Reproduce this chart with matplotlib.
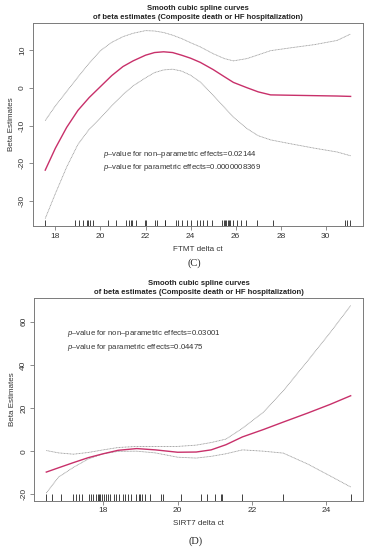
import numpy as np
import matplotlib
matplotlib.use("Agg")
from matplotlib import pyplot as plt

plt.rcParams['font.family'] = ['Liberation Sans', 'DejaVu Sans']
plt.rcParams['mathtext.fontset'] = 'custom'
plt.rcParams['mathtext.it'] = 'Liberation Sans:italic'
plt.rcParams['mathtext.rm'] = 'Liberation Sans'

# ---- panel C: FTMT delta ct ----
ftmt_x = [17.55, 18.0, 18.5, 19.0, 19.5, 20.0, 20.5, 21.0, 21.45, 22.0, 22.4, 22.8,
          23.2, 23.6, 24.0, 24.43, 25.0, 25.5, 25.9, 26.5, 27.0, 27.55, 28.5, 29.5, 30.5, 31.1]
ftmt_fit = [-21.8, -16.0, -10.5, -6.0, -2.6, 0.3, 3.2, 5.6, 7.1, 8.6, 9.3, 9.5,
            9.3, 8.6, 7.8, 6.7, 4.8, 2.9, 1.4, 0.0, -1.1, -1.9, -2.0, -2.1, -2.2, -2.3]
ftmt_hi = [-8.7, -4.8, -1.0, 2.8, 6.5, 9.8, 12.0, 13.5, 14.4, 15.1, 15.0, 14.6,
           13.9, 13.0, 11.9, 10.8, 9.0, 7.7, 7.1, 7.7, 8.7, 9.8, 10.6, 11.4, 12.5, 14.2]
ftmt_lo = [-34.6, -28.0, -21.0, -15.0, -11.0, -8.0, -4.8, -1.8, 0.5, 2.6, 4.0, 4.7,
           4.9, 4.4, 3.3, 1.5, -2.0, -5.2, -7.8, -10.8, -12.7, -13.8, -14.9, -16.0, -17.0, -18.0]
ftmt_rug = [17.55, 18.89, 19.04, 19.22, 19.40, 19.46, 19.52, 19.67, 20.35, 20.68,
            21.13, 21.27, 21.36, 21.42, 21.57, 21.96, 22.02, 22.43, 22.52, 22.85,
            22.88, 23.33, 23.45, 23.63, 23.83, 24.01, 24.28, 24.43, 24.55, 24.73,
            24.96, 25.38, 25.47, 25.53, 25.59, 25.65, 25.71, 25.77, 25.86, 26.04,
            26.25, 26.48, 26.96, 27.64, 30.83, 30.92, 31.09]
ftmt_p = ["0.02144", "0.0000008369"]

# ---- panel D: SIRT7 delta ct ----
sirt_x = [16.47, 16.8, 17.2, 17.6, 18.0, 18.4, 18.9, 19.4, 20.0, 20.5, 20.9,
          21.3, 21.74, 22.3, 22.84, 23.5, 24.1, 24.65]
sirt_fit = [-9.7, -7.7, -5.3, -3.0, -1.2, 0.4, 1.2, 0.6, -0.5, -0.4, 0.6,
            3.0, 6.6, 10.0, 13.5, 17.7, 21.7, 25.7]
sirt_hi = [0.3, -0.8, -1.4, -0.6, 0.6, 1.7, 2.2, 2.2, 2.2, 2.8, 4.0,
           5.6, 10.6, 18.0, 28.0, 42.0, 55.0, 67.5]
sirt_lo = [-19.4, -12.0, -7.5, -3.6, -1.2, -0.1, 0.0, -0.8, -2.8, -3.2, -2.4,
           -1.2, 0.6, 0.0, -0.9, -6.0, -11.5, -16.6]
sirt_rug = [16.47, 16.63, 16.86, 17.18, 17.27, 17.35, 17.44, 17.62, 17.67, 17.73,
            17.81, 17.85, 17.89, 17.92, 17.96, 18.01, 18.08, 18.13, 18.19, 18.28,
            18.35, 18.42, 18.54, 18.59, 18.66, 18.75, 18.89, 18.95, 19.00, 19.05,
            19.11, 19.25, 19.55, 19.60, 20.10, 20.63, 20.79, 21.00, 21.16, 21.18,
            21.74, 22.84, 24.65]
sirt_p = ["0.03001", "0.04475"]

title = "Smooth cubic spline curves\nof beta estimates (Composite death or HF hospitalization)"
red = "#c8306a"
grey = "#9a9a9a"
frame = "#7a7a7a"

fig = plt.figure(figsize=(3.71, 5.5), dpi=100)
ax1 = fig.add_axes([0.089, 0.589, 0.889, 0.369])
ax2 = fig.add_axes([0.092, 0.090, 0.886, 0.368])


def draw_panel(ax, x, fit, hi, lo, rug, pvals, xlabel, xticks, yticks, txt_xy, tag):
    ax.plot(x, hi, color=grey, lw=0.6, ls=(0, (1.2, 0.6)))
    ax.plot(x, lo, color=grey, lw=0.6, ls=(0, (1.2, 0.6)))
    ax.plot(x, fit, color=red, lw=1.0)
    ax.vlines(rug, 0, 0.03, transform=ax.get_xaxis_transform(), color="#222222", lw=0.6)

    # R-style 4% padding
    xmin, xmax = min(x), max(x)
    ymin, ymax = min(lo), max(hi)
    ax.set_xlim(xmin - 0.04 * (xmax - xmin), xmax + 0.04 * (xmax - xmin))
    ax.set_ylim(ymin - 0.04 * (ymax - ymin), ymax + 0.04 * (ymax - ymin))

    ax.set_xticks(xticks)
    ax.set_yticks(yticks)
    ax.set_yticklabels([str(v) for v in yticks], rotation=90, va="center")
    ax.tick_params(labelsize=6, length=3, width=0.6, color=frame, labelcolor="#333333", pad=2)
    for s in ax.spines.values():
        s.set_color(frame)
        s.set_linewidth(0.7)

    ax.set_xlabel(xlabel, fontsize=5.8, color="#333333", labelpad=4)
    ax.set_ylabel("Beta Estimates", fontsize=5.8, color="#333333", labelpad=3)
    ax.set_title(title, fontsize=5.5, fontweight="bold", color="#222222", pad=3, linespacing=1.3)

    ax.text(txt_xy[0], txt_xy[1],
            r"$\it{p}$" + "\u2013value for non\u2013parametric effects=" + pvals[0] + "\n"
            + r"$\it{p}$" + "\u2013value for parametric effects=" + pvals[1],
            fontsize=5.6, color="#333333", va="top", ha="left", linespacing=1.35)

    ax.text(0.49, tag[1], tag[0], transform=ax.transAxes, ha="center", va="center",
            fontsize=7.5, family="Liberation Serif", color="#222222")


draw_panel(ax1, ftmt_x, ftmt_fit, ftmt_hi, ftmt_lo, ftmt_rug, ftmt_p, "FTMT delta ct",
           [18, 20, 22, 24, 26, 28, 30], [-30, -20, -10, 0, 10], (20.1, -16.2), ("(C)", -0.185))
draw_panel(ax2, sirt_x, sirt_fit, sirt_hi, sirt_lo, sirt_rug, sirt_p, "SIRT7 delta ct",
           [18, 20, 22, 24], [-20, 0, 20, 40, 60], (17.02, 57.0), ("(D)", -0.2))

fig.savefig("out.png", dpi=100)
